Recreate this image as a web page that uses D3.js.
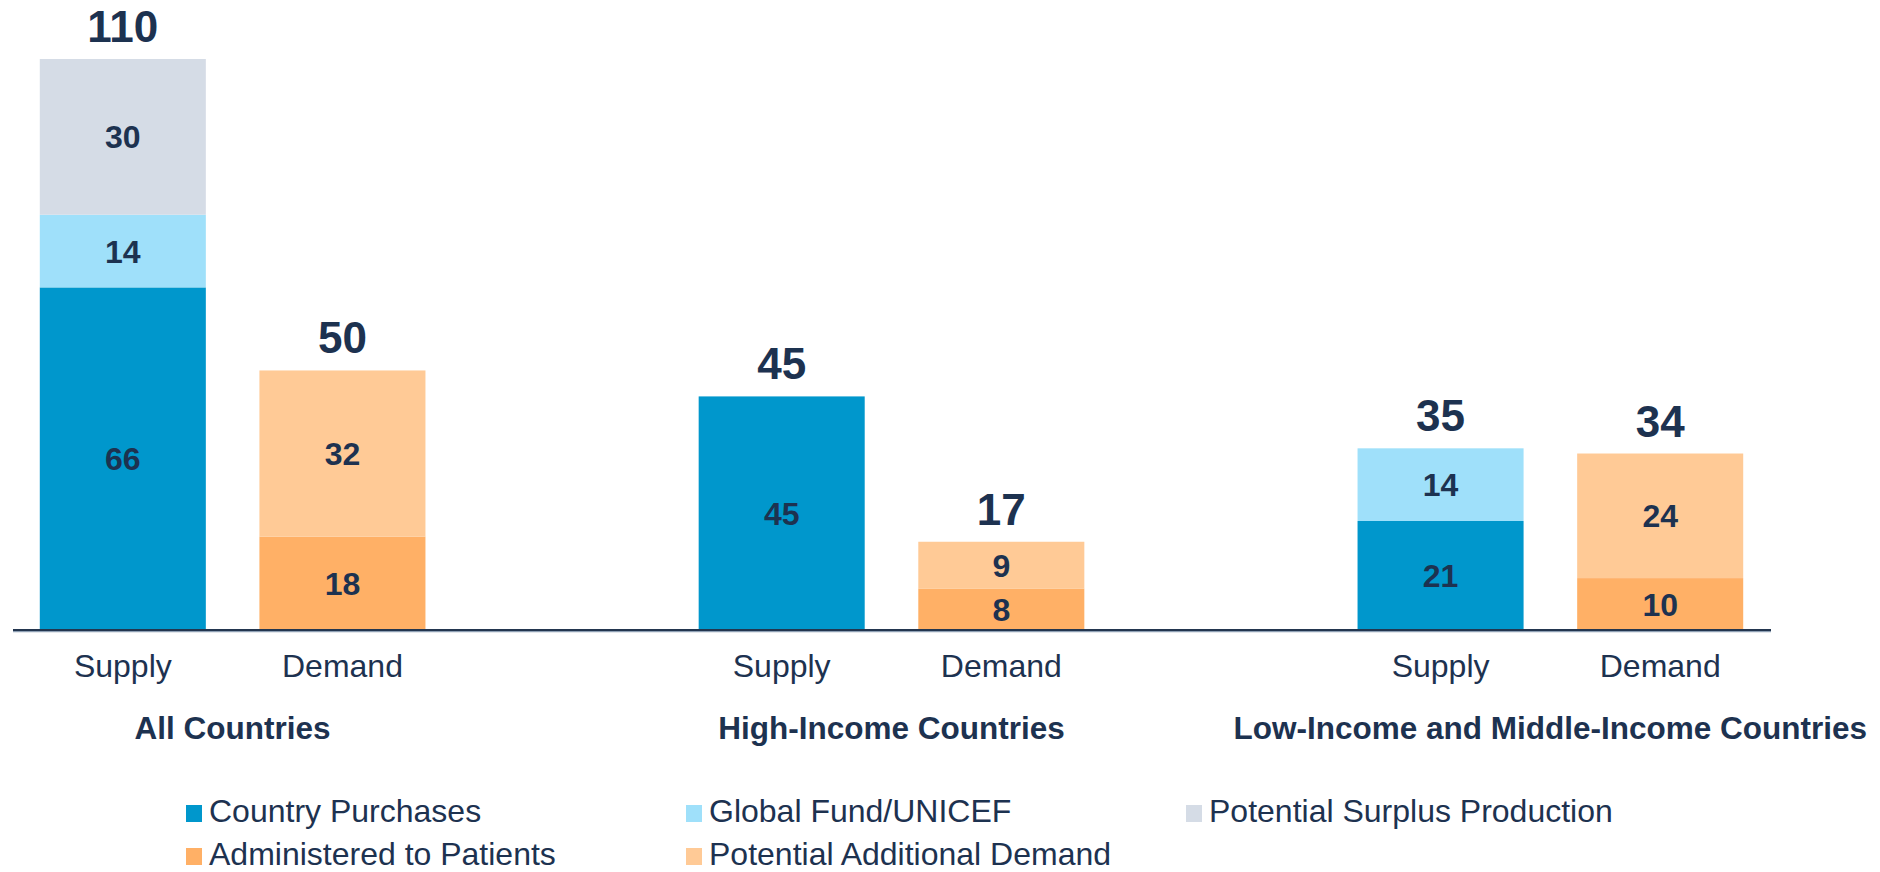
<!DOCTYPE html>
<html>
<head>
<meta charset="utf-8">
<script src="https://cdn.jsdelivr.net/npm/d3@7"></script>
<style>
  body { margin: 0; background: #fff; }
  text { font-family: Arial, "Liberation Sans", sans-serif; fill: #1d3250; }
</style>
</head>
<body>
<div class="canvas"></div>
<script>
// data
const groups = ['All Countries', 'High-Income Countries', 'Low-Income and Middle-Income Countries'];
const barTypes = ['Supply', 'Demand'];

// supply side
const countryPurchases = [66, 45, 21];
const globalFund = [14, 0, 14];
const surplusProduction = [30, 0, 0];
// demand side
const administered = [18, 8, 10];
const additionalDemand = [32, 9, 24];

const seriesNames = ['Country Purchases', 'Global Fund/UNICEF', 'Potential Surplus Production',
                     'Administered to Patients', 'Potential Additional Demand'];
const seriesKeys = ['cp', 'gf', 'psp', 'ap', 'pad'];
const colors = ['#0097cc', '#9fe0fa', '#d5dce6', '#ffb066', '#ffca96'];

// build rows for the stack
const rows = [];
groups.forEach((g, i) => {
    rows.push({group: g, bar: 'Supply', cp: countryPurchases[i], gf: globalFund[i], psp: surplusProduction[i], ap: 0, pad: 0});
    rows.push({group: g, bar: 'Demand', cp: 0, gf: 0, psp: 0, ap: administered[i], pad: additionalDemand[i]});
});

const width = 1880, height = 872;
const svg = d3.select('.canvas')
    .append('svg')
    .attr('width', width)
    .attr('height', height);

const baseline = 630;

// scales
const x0 = d3.scaleBand()
    .domain(groups)
    .range([13, 1770])
    .paddingInner(1/3)
    .paddingOuter(0);
const x1 = d3.scaleBand()
    .domain(barTypes)
    .range([0, x0.bandwidth()])
    .paddingInner(0.244)
    .paddingOuter(0.122);
const y = d3.scaleLinear()
    .domain([0, 110])
    .range([baseline, 59]);
const color = d3.scaleOrdinal().domain(seriesKeys).range(colors);

const stack = d3.stack().keys(seriesKeys);
const stacked = stack(rows);

const bx = d => x0(d.data.group) + x1(d.data.bar);

// bars
const layers = svg.append('g').selectAll('g')
    .data(stacked)
    .enter().append('g')
    .attr('fill', d => color(d.key));

layers.selectAll('rect')
    .data(d => d.filter(s => s[1] - s[0] > 0))
    .enter().append('rect')
    .attr('x', bx)
    .attr('width', x1.bandwidth())
    .attr('y', d => y(d[1]))
    .attr('height', d => y(d[0]) - y(d[1]));

// segment labels
layers.selectAll('text')
    .data(d => d.filter(s => s[1] - s[0] > 0))
    .enter().append('text')
    .attr('x', d => bx(d) + x1.bandwidth() / 2)
    .attr('y', d => (y(d[0]) + y(d[1])) / 2)
    .attr('dy', '0.36em')
    .attr('text-anchor', 'middle')
    .attr('font-size', 32)
    .attr('font-weight', 'bold')
    .text(d => d[1] - d[0]);

// totals above each bar
svg.append('g').selectAll('text')
    .data(rows)
    .enter().append('text')
    .attr('x', d => x0(d.group) + x1(d.bar) + x1.bandwidth() / 2)
    .attr('y', d => y(d3.sum(seriesKeys, k => d[k])) - 17)
    .attr('text-anchor', 'middle')
    .attr('font-size', 44)
    .attr('font-weight', 'bold')
    .text(d => d3.sum(seriesKeys, k => d[k]));

// baseline
svg.append('line')
    .attr('x1', 13).attr('x2', 1771)
    .attr('y1', baseline + 1).attr('y2', baseline + 1)
    .attr('stroke', '#8ea0b4').attr('stroke-width', 2.5);
svg.append('line')
    .attr('x1', 13).attr('x2', 1771)
    .attr('y1', baseline).attr('y2', baseline)
    .attr('stroke', '#23364f').attr('stroke-width', 2);

// x axes per group
groups.forEach(g => {
    const axisGroup = svg.append('g')
        .attr('transform', `translate(${x0(g)}, ${baseline})`)
        .call(d3.axisBottom(x1).tickSize(0).tickPadding(24));
    axisGroup.select('.domain').remove();
    axisGroup.selectAll('text')
        .attr('font-size', 32)
        .attr('font-family', 'Arial, "Liberation Sans", sans-serif')
        .attr('fill', '#1d3250');
});

// group labels
svg.append('g').selectAll('text')
    .data(groups)
    .enter().append('text')
    .attr('x', d => x0(d) + x0.bandwidth() / 2)
    .attr('y', 739)
    .attr('text-anchor', 'middle')
    .attr('font-size', 31.5)
    .attr('font-weight', 'bold')
    .text(d => d);

// legend
const legend = svg.append('g').selectAll('g')
    .data(seriesKeys)
    .enter().append('g')
    .attr('transform', (d, i) => `translate(${186 + 500 * (i % 3)}, ${805 + 43 * Math.floor(i / 3)})`);
legend.append('rect')
    .attr('width', 16)
    .attr('height', 17)
    .attr('fill', d => color(d));
legend.append('text')
    .attr('x', 23)
    .attr('y', 17)
    .attr('font-size', 32)
    .text((d, i) => seriesNames[i]);
</script>
</body>
</html>
